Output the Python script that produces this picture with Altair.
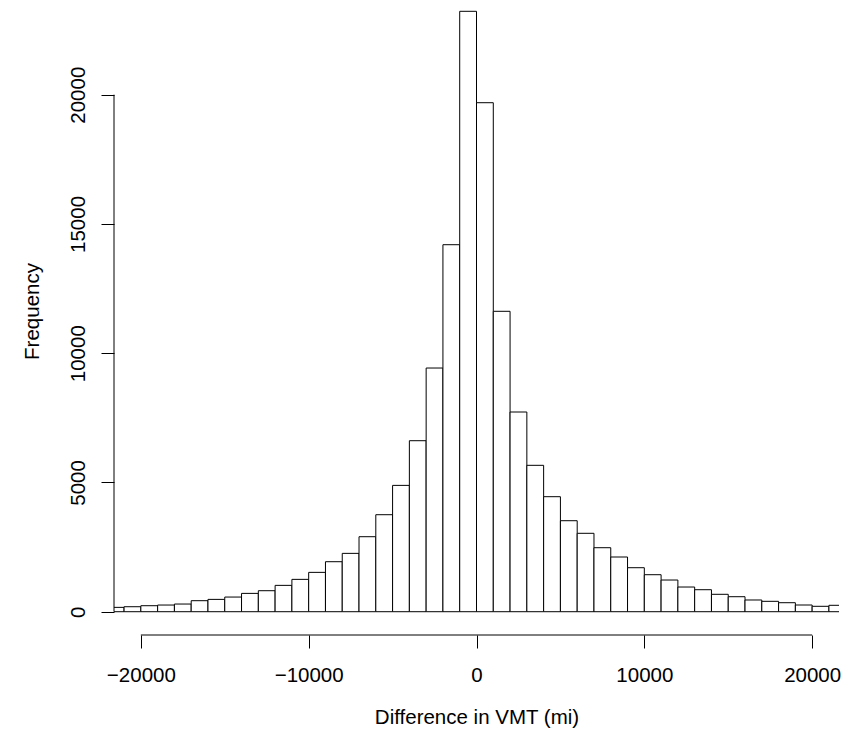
import altair as alt
import pandas as pd

# Histogram bins (lower edge, upper edge) of the VMT difference, and counts
bin_start = [-22000, -21000, -20000, -19000, -18000, -17000, -16000, -15000, -14000, -13000,
             -12000, -11000, -10000, -9000, -8000, -7000, -6000, -5000, -4000, -3000,
             -2000, -1000, 0, 1000, 2000, 3000, 4000, 5000, 6000, 7000,
             8000, 9000, 10000, 11000, 12000, 13000, 14000, 15000, 16000, 17000,
             18000, 19000, 20000, 21000]
bin_end = [-21000, -20000, -19000, -18000, -17000, -16000, -15000, -14000, -13000, -12000,
           -11000, -10000, -9000, -8000, -7000, -6000, -5000, -4000, -3000, -2000,
           -1000, 0, 1000, 2000, 3000, 4000, 5000, 6000, 7000, 8000,
           9000, 10000, 11000, 12000, 13000, 14000, 15000, 16000, 17000, 18000,
           19000, 20000, 21000, 22000]
counts = [168, 193, 232, 258, 297, 426, 477, 567, 709, 812,
          1019, 1251, 1522, 1934, 2257, 2901, 3752, 4887, 6615, 9427,
          14197, 23226, 19690, 11621, 7725, 5663, 4449, 3520, 3033, 2476,
          2116, 1702, 1431, 1226, 955, 851, 673, 580, 453, 402,
          348, 259, 209, 248]

x_ticks = [-20000, -10000, 0, 10000, 20000]
y_ticks = [0, 5000, 10000, 15000, 20000]
x_domain = [-21600, 21600]
y_domain = [-901, 23354]

df = pd.DataFrame({"start": bin_start, "end": bin_end, "count": counts})

FONT = "Liberation Sans, Arial, Helvetica, sans-serif"
FS = 20.5
W, H = 725, 627

x_axis = alt.Axis(
    values=x_ticks, format="d", domain=False, grid=False,
    tickSize=13, tickColor="black", tickWidth=1,
    labelFont=FONT, labelFontSize=FS, labelColor="black",
    labelPadding=33, labelBaseline="alphabetic", labelFlush=False, labelOverlap=False,
    title="Difference in VMT (mi)", titleFont=FONT, titleFontSize=FS,
    titleFontWeight="normal", titleColor="black",
    titleBaseline="alphabetic", titleAlign="center", titleX=362.5, titleY=88,
)
y_axis = alt.Axis(
    values=y_ticks, format="d", domain=False, grid=False,
    tickSize=13, tickColor="black", tickWidth=1,
    labelFont=FONT, labelFontSize=FS, labelColor="black",
    labelAngle=270, labelAlign="center", labelBaseline="alphabetic",
    labelPadding=17, labelFlush=False, labelOverlap=False,
    title="Frequency", titleFont=FONT, titleFontSize=FS,
    titleFontWeight="normal", titleColor="black", titleAngle=270,
    titleBaseline="alphabetic", titleAlign="center", titleX=-75.3, titleY=303,
)

bars = alt.Chart(df).mark_rect(fill="white", stroke="black", strokeWidth=1, clip=True).encode(
    x=alt.X("start:Q", scale=alt.Scale(domain=x_domain, nice=False, zero=False), axis=x_axis),
    x2="end:Q",
    y=alt.Y("count:Q", scale=alt.Scale(domain=y_domain, nice=False, zero=False), axis=y_axis),
    y2=alt.datum(0),
)

x_line = alt.Chart(pd.DataFrame({"a": [x_ticks[0]], "b": [x_ticks[-1]]})).mark_rule(
    color="black", strokeWidth=1
).encode(x="a:Q", x2="b:Q", y=alt.value(H))

y_line = alt.Chart(pd.DataFrame({"a": [y_ticks[0]], "b": [y_ticks[-1]]})).mark_rule(
    color="black", strokeWidth=1
).encode(y="a:Q", y2="b:Q", x=alt.value(0))

chart = alt.layer(bars, x_line, y_line).properties(
    width=W, height=H,
    autosize=alt.AutoSizeParams(type="none"),
    padding={"left": 106, "top": 0, "right": 2, "bottom": 94},
    background="white",
).configure_view(strokeWidth=0)

chart.save("out.html", embed_options={"renderer": "svg", "actions": False})
